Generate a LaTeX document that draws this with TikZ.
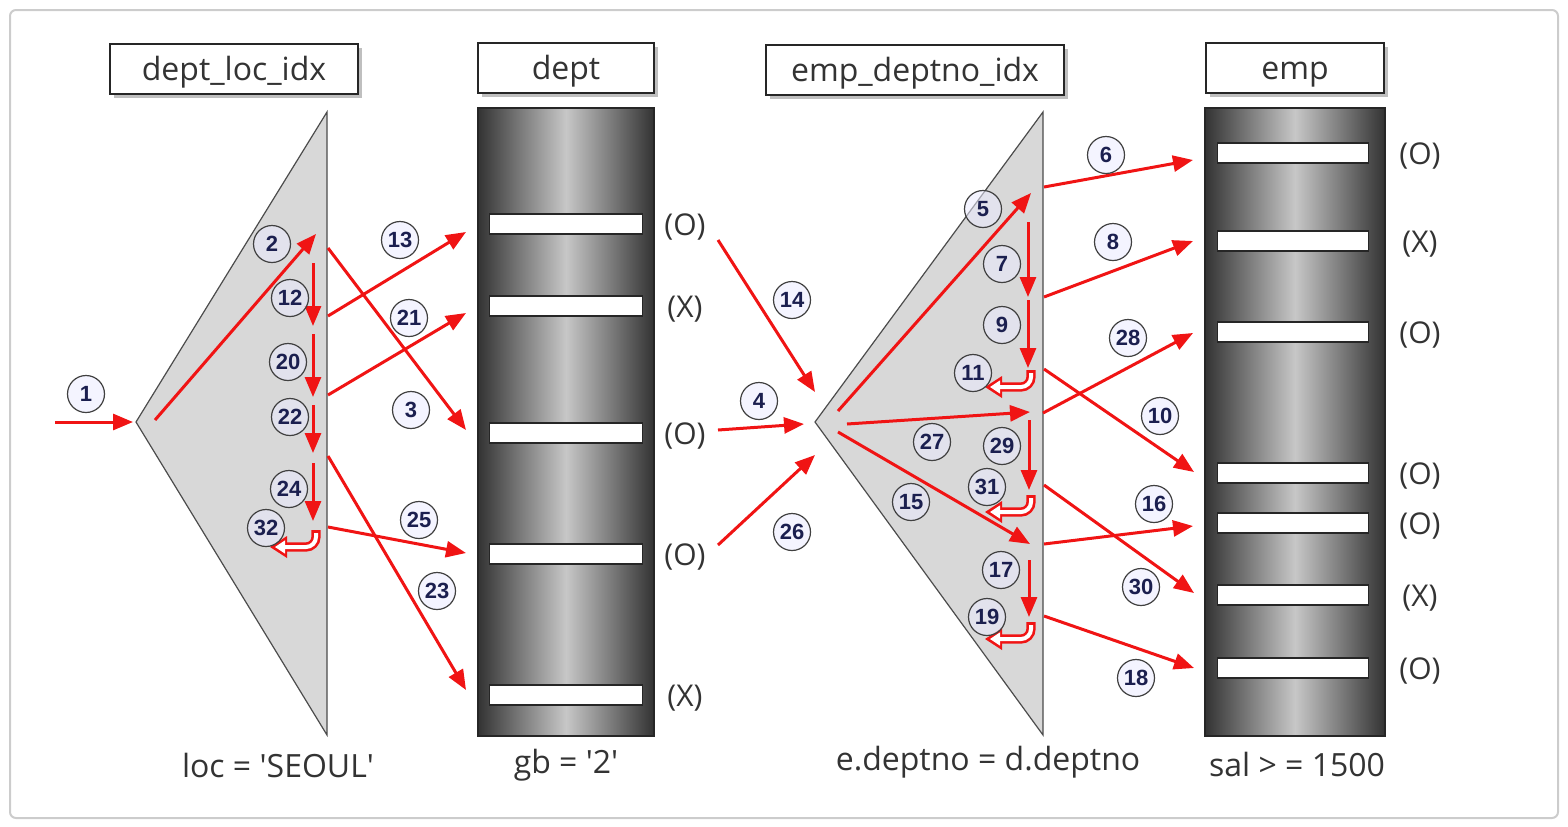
\documentclass[tikz,border=0pt]{standalone}
\usepackage{fontspec}
\setsansfont{Open Sans}
\newfontfamily\numfont{Liberation Sans}
\usetikzlibrary{arrows.meta,positioning,shadows}
\definecolor{FlowRed}{HTML}{F01414}
\definecolor{IdxGrey}{HTML}{D8D8D8}
\definecolor{NumNavy}{HTML}{1B1F4F}
\definecolor{TxtGrey}{HTML}{333333}

\begin{document}
\begin{tikzpicture}[x=0.5pt, y=-0.5pt,
  namebox/.style={draw=black!85, fill=white, line width=1pt, minimum height=25pt,
    text height=13pt, text depth=2pt,
    font=\sffamily\fontsize{16}{18}\selectfont, text=TxtGrey,
    drop shadow={shadow xshift=2pt, shadow yshift=-2pt, fill=black!50}},
  tabcol/.style={draw=black!85, line width=1pt, minimum height=314pt, inner sep=0pt,
    left color=black!80, right color=black!80, middle color=black!22},
  rowbar/.style={draw=black!85, fill=white, line width=0.8pt,
    minimum width=76.5pt, minimum height=10pt, inner sep=0pt},
  hit/.style={font=\sffamily\fontsize{15}{17}\selectfont, text=TxtGrey},
  cond/.style={font=\sffamily\fontsize{16}{18}\selectfont, text=TxtGrey},
  num/.style={circle, draw=black!75, line width=0.6pt, fill=blue!8!white,
    fill opacity=0.55, text opacity=1, minimum size=18.5pt, inner sep=0pt,
    text=NumNavy, font=\numfont\bfseries\fontsize{11}{12}\selectfont},
  flow/.style={draw=FlowRed, line width=1.5pt, -{Triangle[length=10pt, width=8pt]}},
  idxtri/.style={fill=IdxGrey, draw=black!70, line width=0.6pt},
  uturn/.pic={
    \draw[FlowRed, line width=4.6pt, rounded corners=5pt] (0,0) -- (0,17) -- (-30,17);
    \fill[FlowRed] (-29,6) -- (-46,17) -- (-29,28) -- cycle;
    \draw[white, line width=2pt, rounded corners=5pt] (0,3) -- (0,17) -- (-31,17);
    \fill[white] (-31,10.4) -- (-41,17) -- (-31,23.6) -- cycle;
  }]
  \useasboundingbox (0,0) rectangle (1568,826);
  \draw[black!20, line width=1pt, rounded corners=3pt] (10,10) rectangle (1558,818);

  % index triangles
  \coordinate (la) at (136,422); \coordinate (lt) at (327,112); \coordinate (lb) at (327,735);
  \coordinate (ra) at (815,422); \coordinate (rt) at (1043,112); \coordinate (rb) at (1043,735);
  \draw[idxtri] (la) -- (lt) -- (lb) -- cycle;
  \draw[idxtri] (ra) -- (rt) -- (rb) -- cycle;

  % tables
  \node[tabcol, minimum width=88pt] (dtab) at (566,422) {};
  \node[tabcol, minimum width=90pt] (etab) at (1295,422) {};
  \foreach \y/\m [count=\i] in {224/O, 306/X, 433/O, 554/O, 695/X} {
    \node[rowbar] (d\i) at (566,\y) {};
    \node[hit] (dm\i) at (685,\y+3) {(\m)};
  }
  \foreach \y/\m [count=\i] in {153/O, 241/X, 332/O, 473/O, 523/O, 595/X, 668/O} {
    \node[rowbar, minimum width=75.5pt] (e\i) at (1293,\y) {};
    \node[hit] (em\i) at (1420,\y+3) {(\m)};
  }

  % titles
  \node[namebox, minimum width=124pt] (lidx) at (234,69) {dept\_loc\_idx};
  \node[namebox, minimum width=88pt, above=6.5pt of dtab] (dname) {dept};
  \node[namebox, minimum width=149pt] (ridx) at (915,70) {emp\_deptno\_idx};
  \node[namebox, minimum width=89pt, above=6.5pt of etab] (ename) {emp};

  % conditions
  \node[cond] (lcond) at (278,765) {loc = \textquotesingle SEOUL\textquotesingle};
  \node[cond] (dcond) at (566,765) {gb = \textquotesingle 2\textquotesingle};
  \node[cond] (rcond) at (988,762) {e.deptno = d.deptno};
  \node[cond] (econd) at (1297,764) {sal > = 1500};

  % arrow ends, named by step
  \foreach \k/\ax/\ay/\bx/\by in {
    1/55/422/133/422, 2/155/420/316/234, 12/313/263/313/326, 13/328/316/466/232,
    20/313/334/313/397, 21/328/395/466/313, 3/328/248/466/430, 22/313/405/313/453,
    23/328/456/466/690, 24/313/463/313/521, 25/328/527/466/553,
    14/718/240/815/392, 4/718/430/804/424, 26/718/545/815/455,
    5/838/411/1031/193, 6/1044/187/1193/160, 7/1028/222/1028/297, 8/1044/297/1193/241,
    9/1028/300/1028/368, 10/1044/369/1194/472, 27/847/424/1030/412, 28/1043/413/1193/333,
    29/1029/420/1029/490, 30/1044/485/1194/593, 15/838/432/1030/544, 16/1044/544/1193/526,
    17/1029/560/1029/617, 18/1044/616/1194/668}
  {
    \coordinate (s\k) at (\ax,\ay);
    \coordinate (t\k) at (\bx,\by);
    \draw[flow] (s\k) -- (t\k);
  }

  % turning back
  \pic at (316,530) {uturn};
  \pic at (1031,370) {uturn};
  \pic at (1031,495) {uturn};
  \pic at (1031,622) {uturn};

  % step numbers
  \foreach \n/\x/\y in {1/86/394, 2/272/244, 12/290/298, 20/288/362, 22/290/417,
    24/289/489, 32/266/528, 13/400/240, 21/409/318, 3/411/410, 25/419/520, 23/437/591,
    14/792/300, 4/759/401, 26/792/532, 6/1106/155, 5/983/209, 7/1002/264, 8/1113/242,
    9/1002/325, 28/1128/338, 11/973/373, 10/1160/416, 27/932/442, 29/1002/446,
    31/987/487, 15/911/502, 16/1154/504, 17/1001/570, 30/1141/587, 19/987/617, 18/1136/678}
    \node[num] (n\n) at (\x,\y) {\n};
\end{tikzpicture}
\end{document}
